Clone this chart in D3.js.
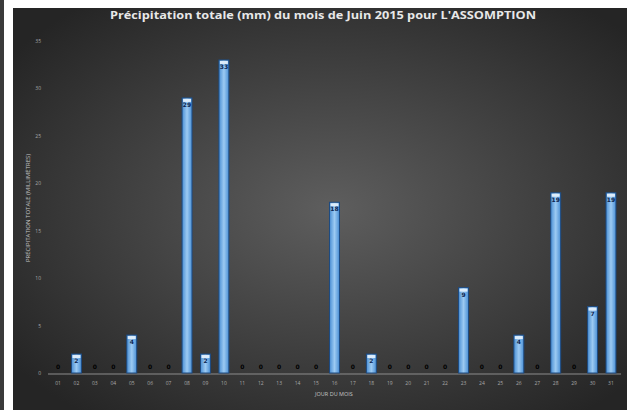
<!DOCTYPE html>
<html><head><meta charset="utf-8">
<script src="https://cdn.jsdelivr.net/npm/d3@7"></script>
<style>body{margin:0;background:#fff;overflow:hidden}</style>
</head><body>
<svg id="c" width="627" height="410"></svg>
<script>
const days = ["01","02","03","04","05","06","07","08","09","10","11","12","13","14","15","16","17","18","19","20","21","22","23","24","25","26","27","28","29","30","31"];
const precip = [0,2,0,0,4,0,0,29,2,33,0,0,0,0,0,18,0,2,0,0,0,0,9,0,0,4,0,19,0,7,19];
const yTicks = [0,5,10,15,20,25,30,35];
const title = "Précipitation totale (mm) du mois de Juin 2015 pour L'ASSOMPTION";
const xTitle = "JOUR DU MOIS";
const yTitle = "PRÉCIPITATION TOTALE (MILLIMÈTRES)";

const svg = d3.select("#c");
const defs = svg.append("defs");
const rg = defs.append("radialGradient").attr("id","bg").attr("cx","52%").attr("cy","50%").attr("r","65%");
rg.append("stop").attr("offset","0%").attr("stop-color","#5e5e5e");
rg.append("stop").attr("offset","100%").attr("stop-color","#252525");
const bg = defs.append("linearGradient").attr("id","bar").attr("x1","0").attr("x2","1");
bg.append("stop").attr("offset","0%").attr("stop-color","#4a8fd4");
bg.append("stop").attr("offset","50%").attr("stop-color","#9ccaf2");
bg.append("stop").attr("offset","100%").attr("stop-color","#4a8fd4");

svg.append("rect").attr("x",0).attr("y",0).attr("width",4).attr("height",410).attr("fill","#3a3a3a");
svg.append("rect").attr("x",13).attr("y",8).attr("width",614).attr("height",402).attr("fill","url(#bg)");

const x = d3.scaleBand().domain(days).range([48.8, 620.2]).paddingInner(0.46).paddingOuter(0.23);
const y = d3.scaleLinear().domain([0,35]).range([373,41]);

svg.append("g").selectAll("text").data(yTicks).join("text")
  .attr("x",41).attr("y",d=>y(d)+2).attr("text-anchor","end")
  .attr("font-family","Open Sans, sans-serif").attr("font-size",5).attr("fill","#a8a8a8").text(d=>d);

svg.append("line").attr("x1",48).attr("x2",621).attr("y1",y(0)+1).attr("y2",y(0)+1).attr("stroke","#8c8c8c").attr("stroke-width",1);

const barData = days.map((d,i)=>({d,v:precip[i]})).filter(o=>o.v>0);
svg.append("g").selectAll("rect").data(barData).join("rect")
  .attr("x",o=>x(o.d)).attr("width",x.bandwidth()).attr("y",o=>y(o.v)).attr("height",o=>y(0)-y(o.v))
  .attr("fill","url(#bar)").attr("stroke","#1d4b82").attr("stroke-width",1);

svg.append("g").selectAll("rect").data(barData).join("rect")
  .attr("x",o=>x(o.d)+1).attr("width",x.bandwidth()-2).attr("y",o=>y(o.v)+1).attr("height",3)
  .attr("fill","#dcecfb");

svg.append("g").selectAll("text").data(days.map((d,i)=>({d,v:precip[i]}))).join("text")
  .attr("x",o=>x(o.d)+x.bandwidth()/2)
  .attr("y",o=>o.v>0 ? y(o.v)+9 : y(0)-4)
  .attr("text-anchor","middle")
  .attr("font-family","DejaVu Sans, sans-serif").attr("font-weight","bold").attr("font-size",6)
  .attr("fill",o=>o.v>0?"#0c2652":"#000").text(o=>o.v);

svg.append("g").selectAll("text").data(days).join("text")
  .attr("x",d=>x(d)+x.bandwidth()/2).attr("y",385).attr("text-anchor","middle")
  .attr("font-family","Open Sans, sans-serif").attr("font-size",5).attr("fill","#a8a8a8").text(d=>d);

svg.append("text").attr("x",334).attr("y",396).attr("text-anchor","middle")
  .attr("font-family","Open Sans, sans-serif").attr("font-size",5.5).attr("fill","#c4c4c4").text(xTitle);

svg.append("text").attr("transform","translate(30,208) rotate(-90)").attr("text-anchor","middle")
  .attr("font-family","Open Sans, sans-serif").attr("font-size",6).attr("fill","#c4c4c4").text(yTitle);

svg.append("text").attr("x",323).attr("y",19).attr("text-anchor","middle")
  .attr("font-family","Open Sans, sans-serif").attr("font-weight","bold").attr("font-size",11)
  .attr("fill","#e8e8e8").attr("textLength",426).attr("lengthAdjust","spacingAndGlyphs").text(title);
</script>
</body></html>
